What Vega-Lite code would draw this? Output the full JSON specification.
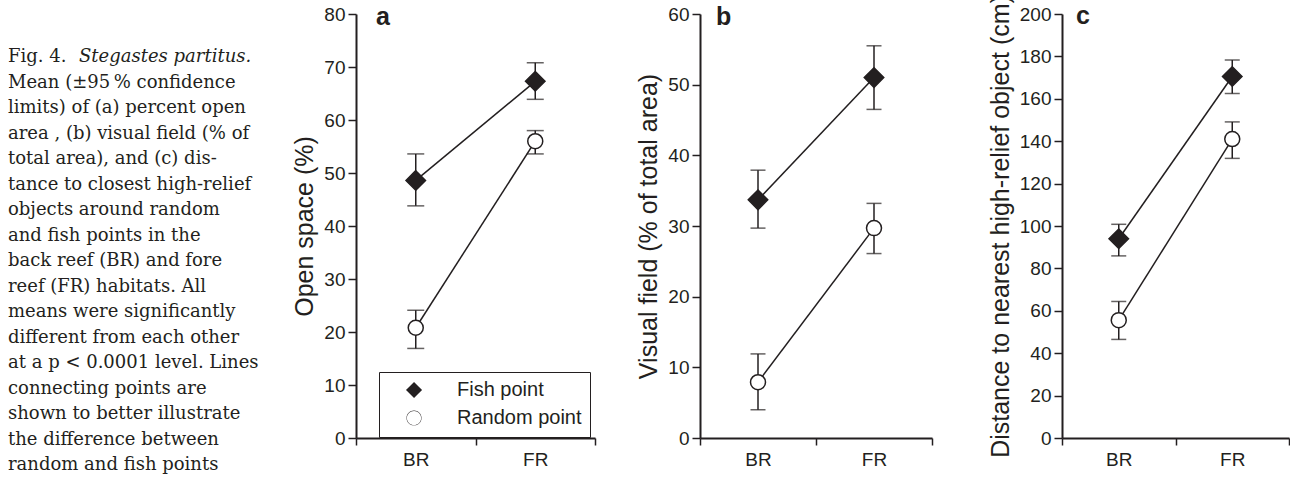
{
  "$schema": "https://vega.github.io/schema/vega-lite/v6.json",
  "background": "white",
  "padding": {"left": 8, "top": -6, "right": 0, "bottom": 0},
  "autosize": {"type": "pad"},
  "config": {
    "view": {"stroke": null},
    "axis": {
      "grid": false,
      "domainColor": "#231f20", "domainWidth": 2,
      "tickColor": "#231f20", "tickWidth": 1.5, "tickSize": 8,
      "labelFont": "Liberation Sans", "labelFontSize": 19, "labelColor": "#231f20", "labelPadding": 3,
      "titleFont": "Liberation Sans", "titleFontSize": 25, "titleColor": "#231f20", "titleFontWeight": "normal", "titlePadding": 6
    },
    "axisX": {"tickBand": "extent", "labelAngle": 0, "tickSize": 7, "labelPadding": 5, "title": null},
    "legend": {"strokeColor": "#231f20"},
    "title": {"font": "Liberation Sans", "fontSize": 25, "fontWeight": "bold", "color": "#231f20", "anchor": "start", "frame": "group", "baseline": "alphabetic"}
  },
  "datasets": {
    "stats": [
      {"panel": "a", "habitat": "BR", "series": "Fish point", "mean": 48.6, "lo": 43.8, "hi": 53.6},
      {"panel": "a", "habitat": "FR", "series": "Fish point", "mean": 67.3, "lo": 63.9, "hi": 70.8},
      {"panel": "a", "habitat": "BR", "series": "Random point", "mean": 20.8, "lo": 16.9, "hi": 24.1},
      {"panel": "a", "habitat": "FR", "series": "Random point", "mean": 56.0, "lo": 53.6, "hi": 58.0},
      {"panel": "b", "habitat": "BR", "series": "Fish point", "mean": 33.7, "lo": 29.7, "hi": 37.9},
      {"panel": "b", "habitat": "FR", "series": "Fish point", "mean": 51.0, "lo": 46.5, "hi": 55.5},
      {"panel": "b", "habitat": "BR", "series": "Random point", "mean": 7.9, "lo": 4.0, "hi": 11.9},
      {"panel": "b", "habitat": "FR", "series": "Random point", "mean": 29.7, "lo": 26.1, "hi": 33.2},
      {"panel": "c", "habitat": "BR", "series": "Fish point", "mean": 94.0, "lo": 85.9, "hi": 100.8},
      {"panel": "c", "habitat": "FR", "series": "Fish point", "mean": 170.5, "lo": 162.5, "hi": 178.3},
      {"panel": "c", "habitat": "BR", "series": "Random point", "mean": 55.6, "lo": 46.5, "hi": 64.4},
      {"panel": "c", "habitat": "FR", "series": "Random point", "mean": 141.0, "lo": 131.9, "hi": 149.1}
    ],
    "caption": [
      {"line": 1, "text": "Fig. 4.", "style": "normal"},
      {"line": 1, "text": "Stegastes partitus.", "style": "italic"},
      {"line": 2, "text": "Mean (±95\u2009% confidence", "style": "normal"},
      {"line": 3, "text": "limits) of (a) percent open", "style": "normal"},
      {"line": 4, "text": "area , (b) visual field (% of", "style": "normal"},
      {"line": 5, "text": "total area), and (c) dis-", "style": "normal"},
      {"line": 6, "text": "tance to closest high-relief", "style": "normal"},
      {"line": 7, "text": "objects around random", "style": "normal"},
      {"line": 8, "text": "and fish points in the", "style": "normal"},
      {"line": 9, "text": "back reef (BR) and fore", "style": "normal"},
      {"line": 10, "text": "reef (FR) habitats. All", "style": "normal"},
      {"line": 11, "text": "means were significantly", "style": "normal"},
      {"line": 12, "text": "different from each other", "style": "normal"},
      {"line": 13, "text": "at a p < 0.0001 level. Lines", "style": "normal"},
      {"line": 14, "text": "connecting points are", "style": "normal"},
      {"line": 15, "text": "shown to better illustrate", "style": "normal"},
      {"line": 16, "text": "the difference between", "style": "normal"},
      {"line": 17, "text": "\u00a0\u00a0\u00a0random and fish points", "style": "normal"}
    ]
  },
  "spacing": 105,
  "bounds": "flush",
  "resolve": {"legend": {"shape": "independent", "fill": "independent"}},
  "hconcat": [
    {
      "width": 243, "height": 408,
      "data": {"name": "caption"},
      "encoding": {
        "y": {"field": "line", "type": "ordinal", "scale": {"type": "point", "padding": 0}, "axis": null},
        "x": {"value": 0},
        "text": {"field": "text"}
      },
      "layer": [
        {"transform": [{"filter": "datum.style == 'normal'"}],
         "mark": {"type": "text", "align": "left", "baseline": "middle", "dy": 43, "font": "DejaVu Serif", "fontSize": 18, "color": "#231f20"}},
        {"transform": [{"filter": "datum.style == 'italic'"}],
         "mark": {"type": "text", "align": "left", "baseline": "middle", "dy": 43, "dx": 71, "font": "DejaVu Serif", "fontStyle": "italic", "fontSize": 18, "color": "#231f20"}}
      ]
    },
    {
      "width": 239, "height": 424,
      "data": {"name": "stats"},
      "transform": [{"filter": "datum.panel == 'a'"}],
      "title": {"text": "a", "dx": 20, "offset": -25},
      "resolve": {"scale": {"shape": "independent"}, "legend": {"shape": "independent"}},
      "encoding": {
        "x": {"field": "habitat", "type": "nominal", "scale": {"type": "band", "paddingInner": 0, "paddingOuter": 0}}
      },
      "layer": [
        {"mark": {"type": "line", "strokeWidth": 1.5, "color": "#231f20"},
         "encoding": {"y": {"field": "mean", "type": "quantitative", "scale": {"domain": [0, 80], "nice": false}, "axis": {"title": "Open space (%)", "values": [0, 10, 20, 30, 40, 50, 60, 70, 80]}}, "detail": {"field": "series"}}},
        {"mark": {"type": "rule", "strokeWidth": 1.5, "color": "#231f20"},
         "encoding": {"y": {"field": "lo", "type": "quantitative"}, "y2": {"field": "hi"}}},
        {"mark": {"type": "tick", "orient": "horizontal", "size": 17, "thickness": 1.5, "color": "#231f20"},
         "encoding": {"y": {"field": "lo", "type": "quantitative"}}},
        {"mark": {"type": "tick", "orient": "horizontal", "size": 17, "thickness": 1.5, "color": "#231f20"},
         "encoding": {"y": {"field": "hi", "type": "quantitative"}}},
        {"mark": {"type": "point", "filled": true, "stroke": "#231f20", "strokeWidth": 1.5, "size": 225, "opacity": 1},
         "encoding": {
           "y": {"field": "mean", "type": "quantitative"},
           "shape": {"field": "series", "type": "nominal", "scale": {"domain": ["Fish point", "Random point"], "range": ["M0,-1.3L1.3,0L0,1.3L-1.3,0Z", "circle"]}, "legend": null},
           "fill": {"field": "series", "type": "nominal", "scale": {"domain": ["Fish point", "Random point"], "range": ["#231f20", "#ffffff"]}, "legend": null}
         }},
        {"transform": [{"filter": "false"}],
         "mark": {"type": "point", "filled": true, "fill": "#231f20", "stroke": "#231f20", "strokeWidth": 1.5, "size": 225, "opacity": 1},
         "encoding": {
           "y": {"field": "mean", "type": "quantitative"},
           "shape": {"field": "series", "type": "nominal",
             "scale": {"domain": ["Fish point", "Random point"], "range": ["M-1.2,0H1.2M2.27,-1.07L3.34,0L2.27,1.07L1.2,0ZM3.34,0H5.73", "M-1.2,0H1.27M3.27,0H5.73M3.27,0A1,1 0 1,1 1.27,0A1,1 0 1,1 3.27,0ZM3.22,0A0.95,0.95 0 1,0 1.32,0A0.95,0.95 0 1,0 3.22,0Z"]},
             "legend": {"title": null, "orient": "none", "legendX": 23, "legendY": 358, "padding": 8, "symbolSize": 225,
               "symbolStrokeColor": "#231f20", "symbolStrokeWidth": 1.5, "symbolFillColor": "#231f20",
               "labelFont": "Liberation Sans", "labelFontSize": 20, "labelColor": "#231f20", "labelOffset": 50, "rowPadding": 5}}
         }}
      ]
    },
    {
      "spacing": 130,
      "bounds": "flush",
      "resolve": {"legend": {"shape": "independent", "fill": "independent"}},
      "hconcat": [
        {
          "width": 232, "height": 424,
          "data": {"name": "stats"},
          "transform": [{"filter": "datum.panel == 'b'"}],
          "title": {"text": "b", "dx": 16, "offset": -25},
          "encoding": {
            "x": {"field": "habitat", "type": "nominal", "scale": {"type": "band", "paddingInner": 0, "paddingOuter": 0}}
          },
          "layer": [
            {"mark": {"type": "line", "strokeWidth": 1.5, "color": "#231f20"},
             "encoding": {"y": {"field": "mean", "type": "quantitative", "scale": {"domain": [0, 60], "nice": false}, "axis": {"title": "Visual field (% of total area)", "values": [0, 10, 20, 30, 40, 50, 60]}}, "detail": {"field": "series"}}},
            {"mark": {"type": "rule", "strokeWidth": 1.5, "color": "#231f20"},
             "encoding": {"y": {"field": "lo", "type": "quantitative"}, "y2": {"field": "hi"}}},
            {"mark": {"type": "tick", "orient": "horizontal", "size": 15, "thickness": 1.5, "color": "#231f20"},
             "encoding": {"y": {"field": "lo", "type": "quantitative"}}},
            {"mark": {"type": "tick", "orient": "horizontal", "size": 15, "thickness": 1.5, "color": "#231f20"},
             "encoding": {"y": {"field": "hi", "type": "quantitative"}}},
            {"mark": {"type": "point", "filled": true, "stroke": "#231f20", "strokeWidth": 1.5, "size": 225, "opacity": 1},
             "encoding": {
               "y": {"field": "mean", "type": "quantitative"},
               "shape": {"field": "series", "type": "nominal", "scale": {"domain": ["Fish point", "Random point"], "range": ["M0,-1.3L1.3,0L0,1.3L-1.3,0Z", "circle"]}, "legend": null},
               "fill": {"field": "series", "type": "nominal", "scale": {"domain": ["Fish point", "Random point"], "range": ["#231f20", "#ffffff"]}, "legend": null}
             }}
          ]
        },
        {
          "width": 227, "height": 424,
          "data": {"name": "stats"},
          "transform": [{"filter": "datum.panel == 'c'"}],
          "title": {"text": "c", "dx": 14, "offset": -34},
          "encoding": {
            "x": {"field": "habitat", "type": "nominal", "scale": {"type": "band", "paddingInner": 0, "paddingOuter": 0}}
          },
          "layer": [
            {"mark": {"type": "line", "strokeWidth": 1.5, "color": "#231f20"},
             "encoding": {"y": {"field": "mean", "type": "quantitative", "scale": {"domain": [0, 200], "nice": false}, "axis": {"title": "Distance to nearest high-relief object (cm)", "values": [0, 20, 40, 60, 80, 100, 120, 140, 160, 180, 200]}}, "detail": {"field": "series"}}},
            {"mark": {"type": "rule", "strokeWidth": 1.5, "color": "#231f20"},
             "encoding": {"y": {"field": "lo", "type": "quantitative"}, "y2": {"field": "hi"}}},
            {"mark": {"type": "tick", "orient": "horizontal", "size": 15, "thickness": 1.5, "color": "#231f20"},
             "encoding": {"y": {"field": "lo", "type": "quantitative"}}},
            {"mark": {"type": "tick", "orient": "horizontal", "size": 15, "thickness": 1.5, "color": "#231f20"},
             "encoding": {"y": {"field": "hi", "type": "quantitative"}}},
            {"mark": {"type": "point", "filled": true, "stroke": "#231f20", "strokeWidth": 1.5, "size": 225, "opacity": 1},
             "encoding": {
               "y": {"field": "mean", "type": "quantitative"},
               "shape": {"field": "series", "type": "nominal", "scale": {"domain": ["Fish point", "Random point"], "range": ["M0,-1.3L1.3,0L0,1.3L-1.3,0Z", "circle"]}, "legend": null},
               "fill": {"field": "series", "type": "nominal", "scale": {"domain": ["Fish point", "Random point"], "range": ["#231f20", "#ffffff"]}, "legend": null}
             }}
          ]
        }
      ]
    }
  ]
}
